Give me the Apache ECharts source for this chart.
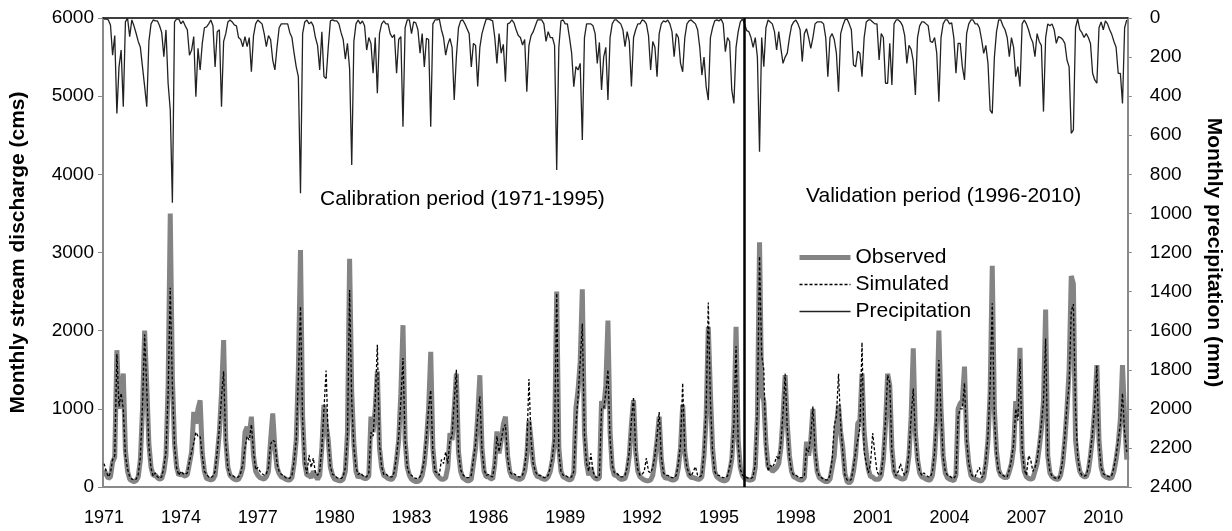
<!DOCTYPE html>
<html>
<head>
<meta charset="utf-8">
<title>Monthly stream discharge and precipitation</title>
<script src="https://cdn.jsdelivr.net/npm/echarts@6/dist/echarts.min.js"></script>
<style>
  html, body { margin: 0; padding: 0; background: #fff; }
  #chart { width: 1232px; height: 531px; }
</style>
</head>
<body>
<div id="chart"></div>
<script>
// monthly series, Jan 1971 .. Dec 2010, one row per year
const years = [1971, 1972, 1973, 1974, 1975, 1976, 1977, 1978, 1979, 1980,
  1981, 1982, 1983, 1984, 1985, 1986, 1987, 1988, 1989, 1990,
  1991, 1992, 1993, 1994, 1995, 1996, 1997, 1998, 1999, 2000,
  2001, 2002, 2003, 2004, 2005, 2006, 2007, 2008, 2009, 2010];
const months = ['01', '02', '03', '04', '05', '06', '07', '08', '09', '10', '11', '12'];

const observed = [
  220,160,110,130,320,380,1750,1000,1250,1450,470,200,
  100,80,70,80,130,350,1000,2000,1300,550,250,150,
  150,120,100,110,200,400,1300,3500,1400,560,250,150,
  170,150,140,160,300,450,960,810,1000,1110,430,200,
  110,100,90,100,150,400,700,1200,1880,600,250,150,
  120,100,90,100,150,250,700,770,650,900,400,200,
  150,120,110,100,130,200,600,940,500,250,170,130,
  120,100,90,90,120,300,600,1500,3030,900,300,150,
  150,120,200,150,100,150,500,1050,800,600,250,150,
  100,90,80,80,100,200,700,2920,1200,560,200,120,
  150,120,110,110,140,900,700,1000,1480,500,250,150,
  130,110,100,100,150,350,600,1200,2070,600,250,150,
  100,80,70,70,90,150,300,600,1000,1730,500,200,
  150,120,100,100,120,250,690,600,1000,1450,450,200,
  120,100,80,80,100,300,500,900,1430,500,200,130,
  130,110,100,300,710,430,600,800,900,400,200,130,
  130,110,100,100,120,200,400,850,600,300,180,130,
  130,110,100,100,130,200,350,600,2500,500,200,130,
  120,100,90,100,180,1010,1240,1600,2530,700,300,150,
  250,140,110,100,120,1100,1000,1300,2130,700,250,150,
  150,120,100,100,110,200,400,800,1110,450,200,130,
  110,90,80,80,90,150,350,600,900,350,150,110,
  120,100,90,90,110,250,500,1050,450,250,150,120,
  120,110,100,100,130,400,900,2050,1200,500,200,130,
  110,90,80,80,100,200,350,800,2050,600,250,150,
  110,100,90,90,100,250,900,3130,1200,1100,560,260,
  250,200,220,250,300,500,900,1430,800,400,200,130,
  120,100,90,90,120,580,400,600,1000,450,200,120,
  100,80,70,70,100,250,400,770,1050,700,500,175,
  70,50,80,200,400,815,850,1450,700,430,220,130,
  130,100,100,100,150,350,800,1450,1300,500,200,130,
  130,110,100,110,200,400,900,1775,700,350,180,130,
  120,100,90,90,150,400,900,2000,1000,400,180,120,
  100,90,80,150,1000,1070,1100,1540,600,300,150,110,
  100,90,80,80,120,300,600,1200,2830,1000,450,220,
  150,130,120,120,200,300,500,1100,900,1780,450,200,
  130,110,100,110,200,300,500,740,1100,2270,400,180,
  130,110,100,100,150,300,600,1000,1500,2700,2600,600,
  350,200,150,130,130,200,400,650,1000,1560,600,250,
  150,130,120,110,120,200,350,550,870,1560,900,350
];

const simulated = [
  300,200,130,180,350,400,1700,1030,1200,1000,400,230,
  130,100,90,100,160,380,1050,1950,1250,520,240,140,
  180,130,110,130,250,450,1200,2550,1300,520,240,150,
  200,170,160,180,320,450,560,700,650,650,400,200,
  160,130,120,140,200,450,750,1150,1480,560,240,150,
  150,130,120,130,180,300,500,650,600,800,450,220,
  250,200,170,150,170,250,550,600,580,300,200,160,
  150,120,110,110,150,330,600,1400,2310,850,300,170,
  410,250,370,180,150,200,500,1000,1490,600,260,160,
  150,120,110,110,130,250,650,2520,1100,500,250,160,
  180,150,130,130,180,700,650,1100,1820,550,260,160,
  170,140,130,130,200,400,650,1100,1650,600,260,160,
  150,120,110,110,130,200,350,650,1000,1240,450,200,
  180,150,350,300,450,300,600,650,1100,1500,450,220,
  160,130,120,120,150,350,550,900,1160,480,220,150,
  160,140,130,300,650,450,600,750,800,380,200,160,
  170,150,130,130,150,250,500,1380,600,300,200,150,
  150,130,120,120,150,250,380,650,2480,450,200,150,
  150,130,120,130,200,800,1150,1600,2090,650,300,200,
  430,200,130,120,150,1000,1000,1200,1500,600,280,180,
  180,150,130,130,150,250,450,850,1150,450,220,150,
  160,200,370,200,180,250,400,650,960,380,180,150,
  150,130,120,120,150,300,550,1330,450,250,170,140,
  200,260,150,130,150,450,1000,2360,1100,450,200,150,
  150,130,120,120,140,250,400,800,1800,550,230,150,
  140,120,110,110,130,300,1000,2950,1690,1500,450,200,
  280,250,300,390,350,550,950,1450,750,380,200,150,
  150,130,120,120,150,500,450,650,1030,480,200,140,
  120,100,90,90,150,350,790,900,1450,800,450,150,
  90,80,100,250,450,600,750,1850,450,300,180,300,
  690,430,200,150,170,400,850,1430,1330,450,200,140,
  200,300,200,150,200,450,900,1260,650,350,200,150,
  180,150,130,130,200,450,950,1625,950,380,200,150,
  140,120,110,150,900,1000,1000,1330,600,300,170,130,
  130,200,250,120,150,350,650,1300,2350,900,400,200,
  170,150,130,130,220,350,550,1000,850,1640,500,220,
  150,400,350,200,250,350,550,800,1100,1900,400,200,
  140,120,110,110,170,350,650,1050,1300,2250,2340,1000,
  400,200,150,140,150,250,450,700,1050,1550,550,250,
  170,150,140,130,150,250,400,600,800,1200,700,450
];

const precipitation = [
  5,5,10,36,190,90,488,250,164,454,20,0,
  95,10,40,78,120,150,250,350,454,120,30,10,
  15,15,40,75,198,61,335,470,945,20,5,5,
  30,15,40,60,190,164,95,403,155,266,130,50,
  45,30,10,40,250,70,60,454,120,80,20,10,
  20,35,40,100,110,147,95,147,100,275,90,30,
  10,20,30,80,147,90,110,215,266,150,50,30,
  30,30,30,75,100,180,250,300,897,80,20,10,
  30,20,40,100,140,266,70,300,310,150,15,10,
  15,15,30,75,110,210,130,260,752,120,30,10,
  30,15,40,164,100,130,283,100,385,80,30,15,
  30,30,80,100,85,283,110,95,556,50,10,10,
  80,20,25,60,180,80,250,104,110,556,30,10,
  10,5,60,100,190,135,105,150,420,200,50,15,
  10,30,55,80,250,130,140,350,150,80,40,5,
  5,10,15,100,232,80,180,135,326,30,25,10,
  25,60,90,100,138,110,377,140,90,70,40,10,
  10,10,30,120,70,100,100,140,778,150,15,10,
  30,30,100,180,351,249,266,232,624,100,30,30,
  30,40,80,232,125,368,200,150,420,100,30,10,
  10,20,30,60,147,70,120,350,100,60,30,30,
  10,15,30,90,266,120,150,300,80,30,15,20,
  10,30,70,198,80,100,232,275,100,30,15,10,
  20,30,60,150,292,200,350,420,100,50,15,10,
  15,5,30,172,100,120,368,437,150,70,20,5,
  30,65,70,100,150,100,200,684,100,249,50,10,
  20,30,70,164,70,155,232,200,180,100,40,20,
  10,30,60,223,80,55,100,155,100,30,20,20,
  20,30,100,300,100,80,110,180,377,80,40,10,
  5,30,60,240,249,170,180,300,100,20,10,10,
  20,30,30,215,80,100,334,334,130,343,30,10,
  10,20,40,90,232,140,160,220,394,100,40,20,
  20,30,40,120,125,100,180,428,100,30,10,10,
  30,25,100,283,130,130,249,317,80,30,10,10,
  30,30,50,110,181,140,232,471,488,200,70,10,
  10,40,60,100,198,100,150,300,249,351,30,10,
  30,60,100,125,198,80,120,140,479,100,30,40,
  30,60,130,95,100,110,130,215,250,590,573,50,
  5,60,75,100,80,100,130,283,317,334,50,20,
  60,15,30,60,85,120,150,283,283,437,50,10
];

const validationStart = '1996-01';

const categories = [];
years.forEach(y => months.forEach(m => categories.push(y + '-' + m)));

const font = '"Liberation Sans", Arial, sans-serif';
const axisGray = '#8a8a8a';
const obsGray = '#848484';

const chart = echarts.init(document.getElementById('chart'));

chart.setOption({
  animation: false,
  grid: { left: 103, right: 96, top: 18, bottom: 44 },
  legend: {
    orient: 'vertical',
    left: 792,
    top: 242,
    itemWidth: 51,
    itemHeight: 14,
    itemGap: 6,
    itemStyle: { opacity: 0 },
    textStyle: { fontSize: 21, lineHeight: 21, fontFamily: font, color: '#000' },
    data: [
      { name: 'Observed', lineStyle: { color: obsGray, width: 5 } },
      { name: 'Simulated', lineStyle: { color: '#000', width: 1.3, type: [3, 2] } },
      { name: 'Precipitation', lineStyle: { color: '#222', width: 1.3 } }
    ]
  },
  xAxis: [
    {
      type: 'category',
      data: categories,
      boundaryGap: true,
      axisLine: { lineStyle: { color: axisGray, width: 2 } },
      axisTick: { interval: 35, inside: true, length: 5, lineStyle: { color: axisGray } },
      axisLabel: {
        interval: 35,
        margin: 22,
        fontSize: 18,
        fontFamily: font,
        color: '#000',
        formatter: v => v.slice(0, 4)
      },
      splitLine: { show: false }
    },
    {
      type: 'category',
      data: categories,
      position: 'top',
      axisLine: { lineStyle: { color: '#000', width: 1.5 } },
      axisTick: { show: false },
      axisLabel: { show: false }
    }
  ],
  yAxis: [
    {
      type: 'value',
      min: 0,
      max: 6000,
      interval: 1000,
      name: 'Monthly stream discharge (cms)',
      nameLocation: 'middle',
      nameRotate: 90,
      nameGap: 74,
      nameTextStyle: { fontSize: 21, fontWeight: 'bold', fontFamily: font, color: '#000' },
      axisLine: { show: true, lineStyle: { color: axisGray, width: 2 } },
      axisTick: { show: true, length: 5, lineStyle: { color: axisGray } },
      axisLabel: { fontSize: 19, fontFamily: font, color: '#000', margin: 9, formatter: v => String(v) },
      splitLine: { show: false }
    },
    {
      type: 'value',
      position: 'right',
      inverse: true,
      min: 0,
      max: 2400,
      interval: 200,
      name: 'Monthly precipitation (mm)',
      nameLocation: 'middle',
      nameRotate: -90,
      nameGap: 72,
      nameTextStyle: { fontSize: 21, fontWeight: 'bold', fontFamily: font, color: '#000' },
      axisLine: { show: true, lineStyle: { color: axisGray, width: 2 } },
      axisTick: { show: true, length: 4, lineStyle: { color: axisGray } },
      axisLabel: { fontSize: 19, fontFamily: font, color: '#000', margin: 22, formatter: v => String(v) },
      splitLine: { show: false }
    }
  ],
  graphic: [
    {
      type: 'text', left: 320, top: 189, silent: true,
      style: { text: 'Calibration period (1971-1995)', fontSize: 21, fontFamily: font, fill: '#000' }
    },
    {
      type: 'text', left: 806, top: 186, silent: true,
      style: { text: 'Validation period (1996-2010)', fontSize: 21, fontFamily: font, fill: '#000' }
    }
  ],
  series: [
    {
      name: 'Observed',
      type: 'line',
      data: observed,
      symbol: 'none',
      lineStyle: { color: obsGray, width: 5 },
      itemStyle: { color: obsGray },
      z: 2
    },
    {
      name: 'Simulated',
      type: 'line',
      data: simulated,
      symbol: 'none',
      lineStyle: { color: '#000', width: 1.3, type: [3, 2] },
      itemStyle: { color: '#000' },
      z: 3,
      markLine: {
        silent: true,
        symbol: 'none',
        label: { show: false },
        lineStyle: { color: '#000', width: 2.5, type: 'solid' },
        data: [{ xAxis: validationStart }]
      }
    },
    {
      name: 'Precipitation',
      type: 'line',
      yAxisIndex: 1,
      data: precipitation,
      symbol: 'none',
      lineStyle: { color: '#222', width: 1.3 },
      itemStyle: { color: '#222' },
      z: 3
    }
  ]
});
</script>
</body>
</html>
